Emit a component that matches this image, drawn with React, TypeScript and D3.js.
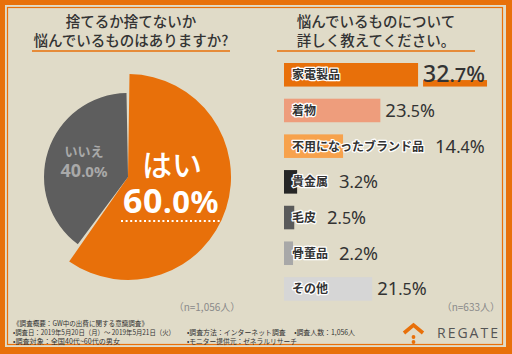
import React from "react";
import * as d3 from "d3";

const pieLabels = ["はい", "いいえ"];
const pieValues = [60.0, 40.0];
const pieColors = ["#e8700a", "#5e5e5e"];

const barLabels = ["家電製品", "着物", "不用になったブランド品", "貴金属", "毛皮", "骨董品", "その他"];
const barValues = [32.7, 23.5, 14.4, 3.2, 2.5, 2.2, 21.5];
const barColors = ["#e8700a", "#ee9d7c", "#f7a24c", "#262626", "#5a5a5a", "#a8a8a8", "#d6d6d6"];

const leftTitle = ["捨てるか捨てないか", "悩んでいるものはありますか?"];
const rightTitle = ["悩んでいるものについて", "詳しく教えてください。"];
const sampleLabels = ["（n=1,056人）", "（n=633人）"];
const footerLeft = [
  "《調査概要：GW中の出費に関する意識調査》",
  "•調査日：2019年5月20日（月）〜 2019年5月21日（火）",
  "•調査対象：全国40代~60代の男女",
];
const footerRight = ["•調査方法：インターネット調査　 •調査人数：1,056人", "•モニター提供元：ゼネラルリサーチ"];

const ORANGE = "#e8700a";
const BG = "#e0dbc8";
const JP = "'Noto Sans CJK JP', 'Noto Sans', sans-serif";
const NUM = "'Noto Sans', 'Noto Sans CJK JP', sans-serif";

const splitNum = (v: number) => {
  const [a, b] = v.toFixed(1).split(".");
  return [a, "." + b];
};

const drawFrame = (svg) => {
  svg.append("rect").attr("width", 512).attr("height", 354).attr("fill", ORANGE);
  svg.append("rect").attr("x", 5).attr("y", 5).attr("width", 501).attr("height", 342).attr("fill", BG);
  svg.append("rect").attr("x", 7.5).attr("y", 7.5).attr("width", 495).attr("height", 337)
    .attr("fill", "none").attr("stroke", ORANGE).attr("stroke-width", 1.2);
};

const drawTitle = (svg, lines, cx, x0, x1) => {
  lines.forEach((t, i) => {
    svg.append("text").attr("x", cx).attr("y", 26.5 + i * 19).attr("text-anchor", "middle")
      .attr("font-family", JP).attr("font-size", 14.5).attr("font-weight", 500).attr("fill", "#333").text(t);
  });
  svg.append("line").attr("x1", x0).attr("x2", x1).attr("y1", 51).attr("y2", 51)
    .attr("stroke", ORANGE).attr("stroke-width", 1.5);
};

const drawPie = (svg) => {
  const cx = 128, cy = 177;
  const radii = [103, 84];
  const arcs = d3.pie<number>().sort(null).padAngle(0.03)(pieValues);
  const g = svg.append("g").attr("transform", `translate(${cx},${cy})`);
  arcs.forEach((a, i) => {
    const arc = d3.arc().innerRadius(0).outerRadius(radii[i]).padRadius(100);
    g.append("path").attr("d", arc(a as any)).attr("fill", pieColors[i]);
  });

  // はい 60.0%
  g.append("text").attr("x", 44).attr("y", -1).attr("text-anchor", "middle").attr("font-family", JP)
    .attr("font-size", 30).attr("font-weight", 500).attr("fill", "#fff").text(pieLabels[0]);
  const [i0, d0] = splitNum(pieValues[0]);
  const t0 = g.append("text").attr("x", 43).attr("y", 36).attr("text-anchor", "middle").attr("font-family", NUM)
    .attr("font-weight", 700).attr("fill", "#fff").attr("letter-spacing", 0.5);
  t0.append("tspan").attr("font-size", 34).text(i0);
  t0.append("tspan").attr("font-size", 31).text(d0 + "%");
  g.append("line").attr("x1", -7).attr("x2", 92).attr("y1", 44).attr("y2", 44)
    .attr("stroke", "#fff").attr("stroke-width", 2).attr("stroke-dasharray", "2,2.6");

  // いいえ 40.0%
  g.append("text").attr("x", -44).attr("y", -21).attr("text-anchor", "middle").attr("font-family", JP)
    .attr("font-size", 13).attr("font-weight", 700).attr("fill", "#a9a9a9").text(pieLabels[1]);
  const [i1, d1] = splitNum(pieValues[1]);
  const t1 = g.append("text").attr("x", -44).attr("y", 0).attr("text-anchor", "middle").attr("font-family", NUM)
    .attr("font-weight", 700).attr("fill", "#a9a9a9");
  t1.append("tspan").attr("font-size", 18).text(i1);
  t1.append("tspan").attr("font-size", 15).text(d1 + "%");
};

const drawBars = (svg) => {
  const x0 = 284;
  const xScale = d3.scaleLinear([0, 40], [0, 164]);
  const yScale = d3.scaleBand(barLabels, [63, 300.7]).paddingInner(0.34).paddingOuter(0);
  const g = svg.append("g");
  barLabels.forEach((lab, i) => {
    const y = yScale(lab);
    const h = yScale.bandwidth();
    const w = xScale(barValues[i]);
    g.append("rect").attr("x", x0).attr("y", y).attr("width", w).attr("height", h).attr("fill", barColors[i]);
    const lt = g.append("text").attr("x", x0 + 8).attr("y", y + h / 2 + 4.5).attr("font-family", JP)
      .attr("font-size", 12).attr("font-weight", 700).attr("fill", "#333")
      .attr("stroke", "#fff").attr("stroke-width", 2.5).attr("stroke-linejoin", "round")
      .attr("paint-order", "stroke").text(lab);
    const labelEnd = x0 + 8 + (lt.node() as SVGTextElement).getComputedTextLength();
    const vx = Math.max(x0 + w + 5, labelEnd + 11);
    const big = i === 0;
    const [ip, dp] = splitNum(barValues[i]);
    const vg = g.append("g");
    const vt = vg.append("text").attr("x", vx).attr("y", y + h / 2 + (big ? 7.5 : 6.5)).attr("font-family", NUM)
      .attr("fill", "#333").attr("font-weight", big ? 500 : 400);
    vt.append("tspan").attr("font-size", big ? 23 : 18.5).text(ip);
    vt.append("tspan").attr("font-size", big ? 20 : 16).text(dp);
    vt.append("tspan").attr("font-size", big ? 22 : 18).text("%");
    if (big) {
      const tw = (vt.node() as SVGTextElement).getComputedTextLength();
      vg.insert("rect", "text").attr("x", vx).attr("y", y + h - 6.5).attr("width", tw + 2).attr("height", 6.5)
        .attr("fill", ORANGE);
    }
  });
};

const drawFooter = (svg) => {
  svg.append("text").attr("x", 207).attr("y", 311).attr("text-anchor", "middle").attr("font-family", JP)
    .attr("font-size", 10).attr("fill", "#8a8a8a").text(sampleLabels[0]);
  svg.append("text").attr("x", 500).attr("y", 311).attr("text-anchor", "end").attr("font-family", JP)
    .attr("font-size", 10).attr("fill", "#8a8a8a").text(sampleLabels[1]);
  const leftW = [135, 162, 107];
  const rightW = [168, 110];
  footerLeft.forEach((t, i) => {
    svg.append("text").attr("x", 13).attr("y", 325.5 + i * 9).attr("font-family", JP).attr("font-size", 7.2)
      .attr("textLength", leftW[i]).attr("lengthAdjust", "spacingAndGlyphs").attr("fill", "#333").text(t);
  });
  footerRight.forEach((t, i) => {
    svg.append("text").attr("x", 187).attr("y", 334.5 + i * 9).attr("font-family", JP).attr("font-size", 7.2)
      .attr("textLength", rightW[i]).attr("lengthAdjust", "spacingAndGlyphs").attr("fill", "#333").text(t);
  });
  // REGATE logo
  svg.append("path").attr("d", "M404,333 L413.5,325 L423,333").attr("fill", "none")
    .attr("stroke", ORANGE).attr("stroke-width", 3.6);
  svg.append("circle").attr("cx", 413.5).attr("cy", 337).attr("r", 1.9).attr("fill", ORANGE);
  svg.append("circle").attr("cx", 413.5).attr("cy", 342).attr("r", 1.9).attr("fill", ORANGE);
  svg.append("text").attr("x", 437).attr("y", 338).attr("font-family", "'Open Sans', 'Noto Sans', sans-serif")
    .attr("font-size", 14).attr("letter-spacing", 2).attr("fill", "#555").text("REGATE");
};

const App = () => {
  const ref = React.useRef<SVGSVGElement>(null);

  React.useEffect(() => {
    const svg = d3.select(ref.current);
    svg.selectAll("*").remove();
    drawFrame(svg);
    drawTitle(svg, leftTitle, 131, 32, 230);
    drawTitle(svg, rightTitle, 376, 277, 475);
    drawPie(svg);
    drawBars(svg);
    drawFooter(svg);
  }, []);

  return <svg width={512} height={354} ref={ref} style={{ position: "fixed", left: 0, top: 0 }} />;
};

export default App;
